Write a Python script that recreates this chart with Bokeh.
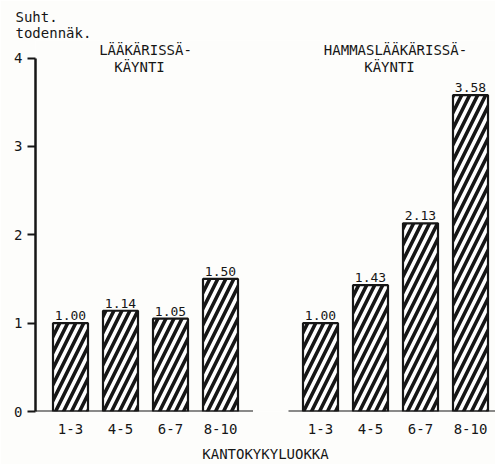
from bokeh.plotting import figure
from bokeh.models import Range1d, FixedTicker, ColumnDataSource
from bokeh.core.properties import value
from bokeh.embed import file_html
from bokeh.resources import INLINE

# ---- data ----
classes = ["1-3", "4-5", "6-7", "8-10"]
laakari = [1.00, 1.14, 1.05, 1.50]
hammas = [1.00, 1.43, 2.13, 3.58]
group_title_1 = ["LÄÄKÄRISSÄ-", "HAMMASLÄÄKÄRISSÄ-"]
group_title_2 = ["KÄYNTI", "KÄYNTI"]
y_ticks = [0, 1, 2, 3, 4]
y_label_lines = ["Suht.", "todennäk."]
x_label = "KANTOKYKYLUOKKA"

FONT = "DejaVu Sans Mono"
INK = "#161616"
BG = "#fdfdfb"

# positions: group 1 at slots 0..3, gap slot, group 2 at slots 5..8
n = len(classes)
pos1 = list(range(n))
pos2 = [n + 1 + i for i in range(n)]
xs = pos1 + pos2
vals = laakari + hammas
labels_txt = ["%.2f" % v for v in vals]

TOP_BORDER = 40
BOTTOM_BORDER = 52
H = 464
PX_PER_UNIT = 88.6
X0, X1 = -0.7, 8.5
Y0 = 0.0
Y1 = (H - BOTTOM_BORDER - TOP_BORDER) / PX_PER_UNIT

p = figure(width=495, height=H, output_backend="svg", toolbar_location=None,
           x_range=Range1d(X0, X1), y_range=Range1d(Y0, Y1),
           min_border_left=35, min_border_right=0, min_border_top=TOP_BORDER,
           min_border_bottom=BOTTOM_BORDER)
p.background_fill_color = BG
p.border_fill_color = BG
p.outline_line_color = None
p.grid.visible = False

# y-label as left-aligned two-line title
p.title.text = "\n".join(y_label_lines)
p.title.align = "left"
p.title.offset = -20
p.title.text_font = FONT
p.title.text_font_size = "14px"
p.title.text_font_style = "normal"
p.title.text_color = INK
p.title.standoff = 0

src = ColumnDataSource(dict(x=xs, top=vals, lab=labels_txt))
p.vbar(x="x", top="top", width=0.7, bottom=0, source=src,
       fill_color="white", line_color=INK, line_width=2.2,
       hatch_pattern="/", hatch_color=INK, hatch_scale=16, hatch_weight=3.6)

p.text(x="x", y="top", text="lab", source=src, text_align="center",
       text_baseline="bottom", y_offset=-3, text_font=value(FONT),
       text_font_size="13px", text_color=INK)

# baselines of both groups
p.segment(x0=[X0, min(pos2) - 0.64], y0=[0, 0], x1=[max(pos1) + 0.65, X1], y1=[0, 0],
          line_color=INK, line_width=2)

# group titles
cx = [sum(pos1) / n, sum(pos2) / n]
p.text(x=cx, y=[4.09, 4.09], text=group_title_1, text_align="center",
       text_baseline="middle", text_font=value(FONT), text_font_size="14px",
       text_color=INK)
p.text(x=[c - 0.12 for c in cx], y=[3.895, 3.895], text=group_title_2, text_align="center",
       text_baseline="middle", text_font=value(FONT), text_font_size="14px",
       text_color=INK)

# y axis
ya = p.yaxis[0]
ya.bounds = (0, 4)
ya.ticker = FixedTicker(ticks=y_ticks)
ya.axis_line_width = 2.5
ya.axis_line_color = INK
ya.major_tick_line_width = 2
ya.major_tick_line_color = INK
ya.major_tick_out = 8
ya.major_tick_in = 0
ya.minor_tick_line_color = None
ya.major_label_standoff = 5
ya.major_label_text_font = FONT
ya.major_label_text_font_size = "14px"
ya.major_label_text_color = INK

# x axis
xa = p.xaxis[0]
xa.ticker = FixedTicker(ticks=xs)
xa.major_label_overrides = {x: c for x, c in zip(xs, classes + classes)}
xa.axis_line_color = None
xa.major_tick_line_color = None
xa.minor_tick_line_color = None
xa.major_label_standoff = 6
xa.major_label_text_font = FONT
xa.major_label_text_font_size = "14px"
xa.major_label_text_color = INK
xa.axis_label = x_label
xa.axis_label_text_font = FONT
xa.axis_label_text_font_size = "14px"
xa.axis_label_text_font_style = "normal"
xa.axis_label_text_color = INK
xa.axis_label_standoff = 9

open("out.html", "w").write(file_html(p, INLINE))
